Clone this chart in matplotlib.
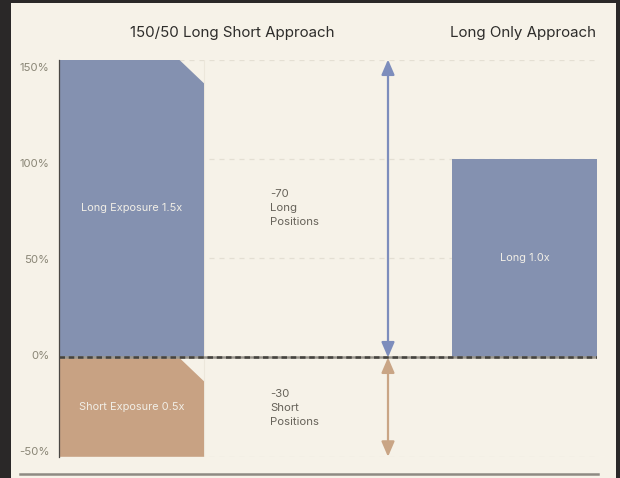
import matplotlib
matplotlib.use("Agg")
import matplotlib.pyplot as plt
from matplotlib.patches import Polygon, Rectangle
from matplotlib.lines import Line2D

# ---- data ----
titles = ["150/50 Long Short Approach", "Long Only Approach"]
long_short_long = 150
long_short_short = -50
long_only_long = 100
long_positions = 70
short_positions = 30
bar_labels = ["Long Exposure 1.5x", "Short Exposure 0.5x", "Long 1.0x"]
yticks = [-50, 0, 50, 100, 150]
ytick_labels = ["-50%", "0%", "50%", "100%", "150%"]

# ---- style ----
DARK = "#2a2828"
CREAM = "#f6f2e8"
BLUE = "#8491b0"
TAN = "#c8a283"
BLUE_ARROW = "#7d8dbc"
TAN_ARROW = "#c9a585"
TICK = "#8a8676"
TEXT = "#67635a"
TITLE = "#2e2d2b"
GRID = "#e4dfd3"

plt.rcParams['font.family'] = ['Inter', 'DejaVu Sans']

W, H = 620, 478
fig = plt.figure(figsize=(W / 100, H / 100), dpi=100, facecolor=DARK)
bg = Rectangle((11 / W, 0), (616 - 11) / W, 1 - 3 / H,
               transform=fig.transFigure, facecolor=CREAM,
               edgecolor='none', zorder=-10)
fig.patches.append(bg)

ax = fig.add_axes([59 / W, 1 - 456.8 / H, (597 - 59) / W, (456.8 - 59.5) / H])
ax.set_zorder(1)
ax.set_facecolor('none')
xmax = (597 - 59) / 145
ax.set_xlim(0, xmax)
ax.set_ylim(-50, 150)

# gridlines
for v in yticks:
    if v == 0:
        continue
    ax.plot([0, xmax], [v, v], color=GRID, lw=0.9, ls=(0, (4, 4)), zorder=1)
# faint divider
ax.plot([1.0, 1.0], [-50, 150], color="#ece7db", lw=0.8, zorder=1)

cw, ch = 25 / 145, 12.0
# long exposure bar with chamfered corner
ax.add_patch(Polygon([(0, 0), (0, long_short_long), (1 - cw, long_short_long),
                      (1, long_short_long - ch), (1, 0)],
                     closed=True, facecolor=BLUE, edgecolor='none', zorder=2))
# short exposure bar
ax.add_patch(Polygon([(0, 0), (0, long_short_short), (1, long_short_short),
                      (1, -ch), (1 - cw, 0)],
                     closed=True, facecolor=TAN, edgecolor='none', zorder=2))
# long only bar
x_lo = xmax - 1
ax.bar([x_lo + 0.5], [long_only_long], width=0.995, color=BLUE, zorder=2)

# zero line
ax.plot([0, xmax], [0, 0], color="#9a968d", lw=1.8, zorder=3)
ax.plot([0, xmax], [0, 0], color="#45433f", lw=1.8, ls=(0, (2.2, 1.5)), zorder=3)

# arrows
xa = (388 - 59) / 145
ax.annotate("", xy=(xa, long_short_long), xytext=(xa, 0),
            arrowprops=dict(arrowstyle="<|-|>,head_length=0.65,head_width=0.28",
                            color=BLUE_ARROW, lw=1.6, shrinkA=0, shrinkB=0,
                            mutation_scale=14), zorder=4)
ax.annotate("", xy=(xa, long_short_short), xytext=(xa, 0),
            arrowprops=dict(arrowstyle="<|-|>,head_length=0.65,head_width=0.28",
                            color=TAN_ARROW, lw=1.6, shrinkA=0, shrinkB=0,
                            mutation_scale=14), zorder=4)

# bar labels
ax.text(0.5, long_short_long / 2, bar_labels[0], ha='center', va='center',
        color="#f1eee6", fontsize=7.9, zorder=5)
ax.text(0.5, long_short_short / 2, bar_labels[1], ha='center', va='center',
        color="#f1eee6", fontsize=7.9, zorder=5)
ax.text(x_lo + 0.5, long_only_long / 2, bar_labels[2], ha='center', va='center',
        color="#f1eee6", fontsize=7.9, zorder=5)

# position labels
xt = (270 - 59) / 145
ax.text(xt, long_short_long / 2, f"-{long_positions}\nLong\nPositions",
        ha='left', va='center', color=TEXT, fontsize=8.2, linespacing=1.5, zorder=5)
ax.text(xt, long_short_short / 2 - 0.5, f"-{short_positions}\nShort\nPositions",
        ha='left', va='center', color=TEXT, fontsize=8.2, linespacing=1.5, zorder=5)

# titles
fig.text(232 / W, 1 - 33 / H, titles[0], ha='center', va='center',
         color=TITLE, fontsize=10.9)
fig.text(523 / W, 1 - 33 / H, titles[1], ha='center', va='center',
         color=TITLE, fontsize=10.9)

# axes styling
for s in ['top', 'right', 'bottom']:
    ax.spines[s].set_visible(False)
ax.spines['left'].set_color("#4a4844")
ax.spines['left'].set_linewidth(0.9)
ax.spines['left'].set_zorder(6)
ax.set_xticks([])
ax.set_yticks([])

# tick labels sit on their own (slightly compressed) scale, as in the reference
lab = fig.add_axes([59 / W, 1 - 451 / H, 0.001, (451 - 66.7) / H])
lab.set_facecolor('none')
lab.set_ylim(-50, 150)
for s in lab.spines.values():
    s.set_visible(False)
lab.set_xticks([])
lab.set_yticks(yticks)
lab.set_yticklabels(ytick_labels)
lab.tick_params(axis='y', length=0, pad=7, labelcolor=TICK, labelsize=8.2)

# bottom rule
fig.add_artist(Line2D([20 / W, 597.5 / W], [1 - 473.5 / H, 1 - 473.5 / H],
                      transform=fig.transFigure, color="#8e8a82", lw=1.8))

fig.savefig("out.png", dpi=100, facecolor=DARK)
